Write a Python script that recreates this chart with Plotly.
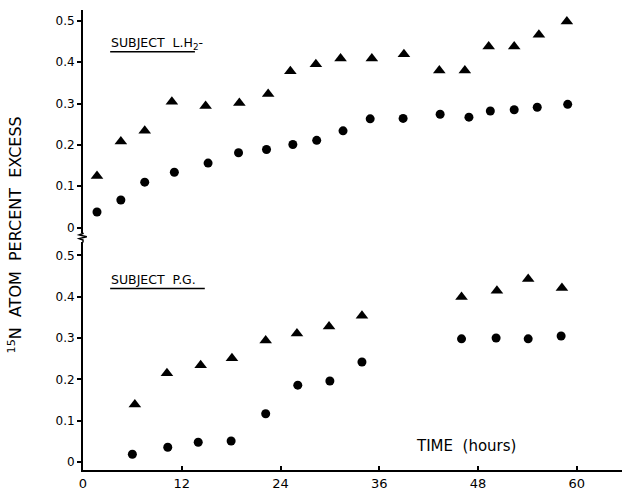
import plotly.graph_objects as go

# Subject L.H2 - sampling times (hours) and 15N atom percent excess
lh_tri_t = [1.7, 4.6, 7.5, 10.8, 14.9, 19.0, 22.5, 25.2, 28.3, 31.3, 35.1, 39.0, 43.3, 46.4, 49.3, 52.4, 55.4, 58.8]
lh_tri_v = [0.125, 0.208, 0.234, 0.304, 0.294, 0.301, 0.323, 0.378, 0.395, 0.409, 0.409, 0.419, 0.380, 0.380, 0.438, 0.438, 0.466, 0.498]
lh_dot_t = [1.7, 4.6, 7.5, 11.1, 15.2, 18.9, 22.3, 25.5, 28.4, 31.6, 34.9, 38.9, 43.4, 46.9, 49.5, 52.4, 55.2, 58.9]
lh_dot_v = [0.038, 0.067, 0.110, 0.134, 0.156, 0.181, 0.189, 0.201, 0.211, 0.234, 0.263, 0.264, 0.274, 0.267, 0.282, 0.285, 0.291, 0.298]

# Subject P.G.
pg_tri_t = [6.3, 10.2, 14.3, 18.1, 22.2, 26.0, 29.9, 33.9, 46.0, 50.3, 54.1, 58.2]
pg_tri_v = [0.139, 0.215, 0.234, 0.251, 0.294, 0.311, 0.328, 0.354, 0.399, 0.414, 0.443, 0.421]
pg_dot_t = [6.0, 10.3, 14.0, 18.0, 22.2, 26.1, 30.0, 33.9, 46.0, 50.2, 54.1, 58.1]
pg_dot_v = [0.019, 0.036, 0.048, 0.051, 0.117, 0.186, 0.196, 0.242, 0.298, 0.300, 0.298, 0.305]

x_ticks = [0, 12, 24, 36, 48, 60]
y_ticks = [0, 0.1, 0.2, 0.3, 0.4, 0.5]
y_tick_text = ["0", "0.1", "0.2", "0.3", "0.4", "0.5"]

FONT = "DejaVu Sans"
INK = "black"

fig = go.Figure()


def add_points(t, v, symbol, size, xa, ya):
    fig.add_trace(go.Scatter(
        x=t, y=v, mode="markers", xaxis=xa, yaxis=ya,
        marker=dict(symbol=symbol, size=size, color=INK, line=dict(width=0)),
        showlegend=False, hoverinfo="x+y",
    ))


# upper panel (x2 / y2): subject L.H2-
add_points(lh_tri_t, lh_tri_v, "triangle-up", 11, "x2", "y2")
add_points(lh_dot_t, lh_dot_v, "circle", 9, "x2", "y2")
# lower panel (x / y): subject P.G.
add_points(pg_tri_t, pg_tri_v, "triangle-up", 11, "x", "y")
add_points(pg_dot_t, pg_dot_v, "circle", 9, "x", "y")

x_range = [0, 65.5]
axis_font = dict(family=FONT, size=12, color=INK)

y_common = dict(
    tickvals=y_ticks, ticktext=y_tick_text,
    ticks="outside", ticklen=4, tickwidth=1.5, tickcolor=INK,
    showline=True, linecolor=INK, linewidth=2,
    showgrid=False, zeroline=False, tickfont=axis_font,
)

fig.update_layout(
    width=625, height=494,
    margin=dict(l=83, r=3, t=10, b=19),
    paper_bgcolor="white", plot_bgcolor="white",
    font=dict(family=FONT, color=INK),
    xaxis=dict(
        range=x_range, domain=[0, 1], anchor="y",
        tickvals=x_ticks, ticktext=[str(v) for v in x_ticks],
        ticks="inside", ticklen=4, tickwidth=1.5, tickcolor=INK,
        showline=True, linecolor=INK, linewidth=2,
        showgrid=False, zeroline=False,
        tickfont=dict(family=FONT, size=13, color=INK),
    ),
    yaxis=dict(range=[-0.0191, 0.531], domain=[0, 0.4946], anchor="x", **y_common),
    xaxis2=dict(
        range=x_range, domain=[0, 1], anchor="y2", matches="x",
        showticklabels=False, ticks="", showline=False,
        showgrid=False, zeroline=False,
    ),
    yaxis2=dict(range=[-0.012, 0.526], domain=[0.516, 1.0], anchor="x2", **y_common),
)

# axis break squiggle joining the two y-axis segments
fig.add_shape(
    type="path", xref="paper", yref="paper",
    path="M 0 0.4946 L 0 0.500 L -0.007 0.503 L 0.007 0.507 L -0.007 0.511 L 0 0.514 L 0 0.516",
    line=dict(color=INK, width=1.5),
)

# panel labels with underlines
label_font = dict(family=FONT, size=12.5, color=INK)
fig.add_annotation(
    x=3.1, y=0.42, xref="x2", yref="y2", xanchor="left", yanchor="bottom",
    text="SUBJECT  L.H<sub>2</sub>-", showarrow=False, font=label_font,
)
fig.add_shape(type="line", xref="x2", yref="y2", x0=3.3, x1=13.6, y0=0.425, y1=0.425,
              line=dict(color=INK, width=1.5))

fig.add_annotation(
    x=3.1, y=0.419, xref="x", yref="y", xanchor="left", yanchor="bottom",
    text="SUBJECT  P.G.", showarrow=False, font=label_font,
)
fig.add_shape(type="line", xref="x", yref="y", x0=3.3, x1=14.8, y0=0.42, y1=0.42,
              line=dict(color=INK, width=1.5))

# axis titles
fig.add_annotation(
    x=46.6, y=0.04, xref="x", yref="y", xanchor="center", yanchor="middle",
    text="TIME  (hours)", showarrow=False,
    font=dict(family=FONT, size=15, color=INK),
)
fig.add_annotation(
    x=-0.126, y=0.51, xref="paper", yref="paper", xanchor="center", yanchor="middle",
    text="<sup>15</sup>N  ATOM  PERCENT  EXCESS", textangle=-90, showarrow=False,
    font=dict(family=FONT, size=16, color=INK),
)

fig.write_html("out.html")
